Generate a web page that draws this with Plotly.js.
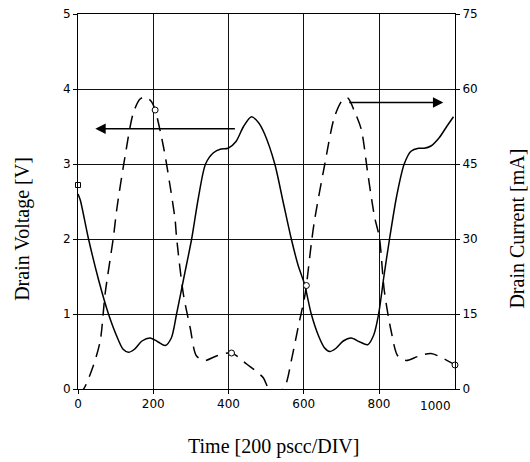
<!DOCTYPE html>
<html>
<head>
<meta charset="utf-8">
<script src="https://cdn.plot.ly/plotly-3.0.1.min.js"></script>
<style>html,body{margin:0;padding:0;background:#fff;}#chart{width:530px;height:462px;}</style>
</head>
<body>
<div id="chart"></div>
<script>
// Drain voltage (solid, left axis, V)
var voltT = [0, 6, 28, 55, 81, 105, 120, 134, 150, 170, 192, 212, 232, 248, 262, 282, 302, 320, 339, 360, 380, 399, 420, 440, 461, 480, 496, 523, 545, 567, 585, 602, 620, 640, 655, 669, 685, 705, 726, 748, 770, 786, 799, 813, 828, 848, 867, 885, 905, 920, 938, 960, 980, 998];
var voltV = [2.6, 2.52, 2.0, 1.45, 1.0, 0.68, 0.53, 0.49, 0.53, 0.64, 0.68, 0.63, 0.58, 0.68, 1.0, 1.5, 2.0, 2.55, 3.0, 3.15, 3.2, 3.21, 3.3, 3.5, 3.63, 3.55, 3.4, 3.0, 2.5, 2.0, 1.65, 1.4, 1.0, 0.7, 0.55, 0.5, 0.54, 0.64, 0.68, 0.63, 0.59, 0.72, 1.0, 1.5, 2.0, 2.6, 3.0, 3.17, 3.21, 3.21, 3.24, 3.35, 3.5, 3.63];
// Drain current (dashed, right axis, mA)
var currT = [0, 15, 40, 59, 72, 94, 103, 125, 147, 165, 180, 195, 205, 227, 245, 258, 262, 280, 298, 315, 337, 368, 408, 448, 492, 505, 525, 550, 567, 585, 602, 607, 620, 629, 655, 682, 704, 717, 735, 753, 770, 788, 801, 814, 832, 850, 872, 903, 938, 974, 1002];
var currI = [-1.0, 0, 4.5, 9.6, 19, 30.3, 35.9, 46.5, 55.2, 58, 58.4, 57.5, 55.8, 48.5, 40.5, 33.9, 30.3, 19, 12.3, 6.6, 5.7, 6.6, 7.2, 5.0, 2.3, 0.3, -1, 0.6, 5.7, 12.3, 18.3, 20.7, 29, 33.9, 44.6, 54.5, 57.9, 58.2, 55.5, 51.9, 43.2, 34.5, 30.3, 19.7, 11.7, 6.6, 5.7, 6.5, 7.1, 6.0, 4.8];
// circle markers on the current curve
var circT = [0, 205, 408, 607, 1002];
var circI = [-1.2, 55.8, 7.2, 20.7, 4.8];
// square marker on the voltage curve
var sqT = [0];
var sqV = [2.72];
// axis ticks
var xTicks = [0, 200, 400, 600, 800];
var xTickText = ['0', '200', '400', '600', '800'];
var lastXTickText = '1000';
var yTicks = [0, 1, 2, 3, 4, 5];
var y2Ticks = [0, 15, 30, 45, 60, 75];
// arrows (voltage arrow on left axis, current arrow on right axis)
var arrowV = {tipT: 46, tailT: 421, v: 3.47};
var arrowI = {tipT: 971, tailT: 717, i: 57.3};

var serif = 'Liberation Serif, Times New Roman, serif';
var sans = 'DejaVu Sans, Verdana, sans-serif';

var traces = [
  {x: voltT, y: voltV, type: 'scatter', mode: 'lines', yaxis: 'y',
   line: {color: '#000', width: 1.5, shape: 'spline', smoothing: 0.8}, hoverinfo: 'skip'},
  {x: currT, y: currI, type: 'scatter', mode: 'lines', yaxis: 'y2',
   line: {color: '#000', width: 1.5, dash: '13px,8px', shape: 'spline', smoothing: 0.8}, hoverinfo: 'skip'},
  {x: circT, y: circI, type: 'scatter', mode: 'markers', yaxis: 'y2', cliponaxis: false,
   marker: {symbol: 'circle', size: 6, color: '#fff', line: {color: '#000', width: 1}}, hoverinfo: 'skip'},
  {x: sqT, y: sqV, type: 'scatter', mode: 'markers', yaxis: 'y', cliponaxis: false,
   marker: {symbol: 'square', size: 5, color: '#fff', line: {color: '#000', width: 1}}, hoverinfo: 'skip'}
];

var layout = {
  width: 530, height: 462,
  margin: {l: 77.7, r: 75, t: 14, b: 72.7},
  paper_bgcolor: '#fff', plot_bgcolor: '#fff',
  showlegend: false,
  font: {family: sans, size: 12, color: '#000'},
  xaxis: {
    range: [0, 1002], tickvals: xTicks, ticktext: xTickText,
    showgrid: true, gridcolor: '#111', gridwidth: 1,
    showline: true, linecolor: '#000', linewidth: 1, mirror: true,
    ticks: 'outside', ticklen: 4, tickcolor: '#000',
    zeroline: false, tickfont: {family: sans, size: 12, color: '#000'}
  },
  yaxis: {
    range: [0, 5], tickvals: yTicks,
    showgrid: true, gridcolor: '#111', gridwidth: 1,
    showline: true, linecolor: '#000', linewidth: 1, mirror: true,
    ticks: 'outside', ticklen: 4, tickcolor: '#000',
    zeroline: false, tickfont: {family: sans, size: 12, color: '#000'}
  },
  yaxis2: {
    range: [0, 75], tickvals: y2Ticks, overlaying: 'y', side: 'right',
    showgrid: false, showline: true, linecolor: '#000', linewidth: 1,
    ticks: 'outside', ticklen: 4, tickcolor: '#000',
    zeroline: false, tickfont: {family: sans, size: 12, color: '#000'}
  },
  annotations: [
    {x: arrowV.tipT, y: arrowV.v, xref: 'x', yref: 'y', ax: arrowV.tailT, ay: arrowV.v, axref: 'x', ayref: 'y',
     text: '', showarrow: true, arrowhead: 2, arrowsize: 1.6, arrowwidth: 1.3, arrowcolor: '#000'},
    {x: arrowI.tipT, y: arrowI.i, xref: 'x', yref: 'y2', ax: arrowI.tailT, ay: arrowI.i, axref: 'x', ayref: 'y2',
     text: '', showarrow: true, arrowhead: 2, arrowsize: 1.6, arrowwidth: 1.3, arrowcolor: '#000'},
    {x: 949, y: 0, xref: 'x', yref: 'paper', yshift: -17, text: lastXTickText, showarrow: false,
     font: {family: sans, size: 12, color: '#000'}, yanchor: 'middle'},
    {x: -0.1476, y: 0.428, xref: 'paper', yref: 'paper', text: 'Drain Voltage [V]', textangle: -90, showarrow: false,
     font: {family: serif, size: 20, color: '#000'}, xanchor: 'center', yanchor: 'middle'},
    {x: 1.162, y: 0.428, xref: 'paper', yref: 'paper', text: 'Drain Current [mA]', textangle: -90, showarrow: false,
     font: {family: serif, size: 20, color: '#000'}, xanchor: 'center', yanchor: 'middle'},
    {x: 0.518, y: -0.1537, xref: 'paper', yref: 'paper', text: 'Time [200 pscc/DIV]', showarrow: false,
     font: {family: serif, size: 20, color: '#000'}, xanchor: 'center', yanchor: 'middle'}
  ]
};

Plotly.newPlot('chart', traces, layout, {displayModeBar: false, staticPlot: true});
</script>
</body>
</html>
